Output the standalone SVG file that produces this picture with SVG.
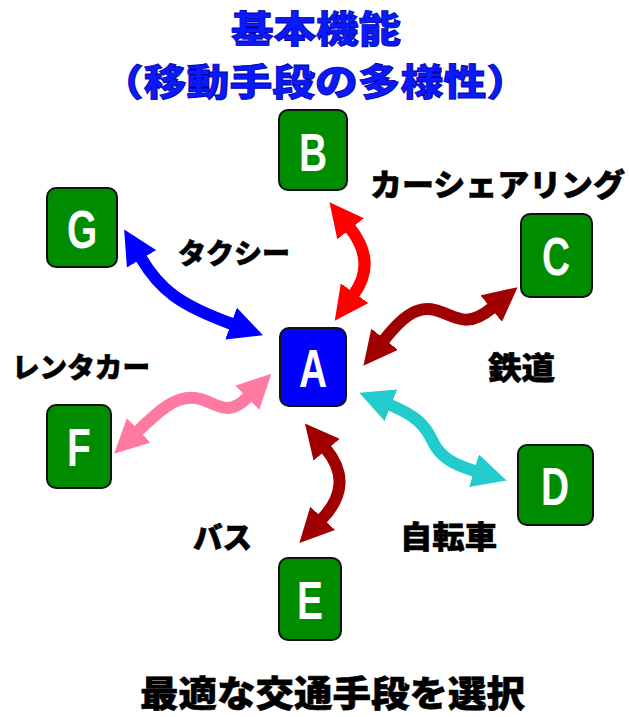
<svg xmlns="http://www.w3.org/2000/svg" width="629" height="717" viewBox="0 0 629 717">
<style>
.box{fill:#008c00;stroke:#111;stroke-width:2}
.boxA{fill:#0000ff;stroke:#111;stroke-width:2}
.ltr{font-family:"Liberation Sans",Arial,sans-serif;font-weight:bold;font-size:54px;fill:#fff;text-anchor:middle}
.lbl{font-family:"Noto Sans CJK JP","Noto Sans",sans-serif;font-weight:900;fill:#000;stroke:#000;stroke-width:0.6}
.ttl{font-family:"Noto Sans CJK JP","Noto Sans",sans-serif;font-weight:900;font-size:37px;fill:#0a1aff;stroke:#0000a0;stroke-width:0.8;text-anchor:middle}
.arr{fill:none;stroke-width:12}
</style>
<defs>
<marker id="hBlue" markerUnits="userSpaceOnUse" viewBox="0 0 34 34" refX="1" refY="17" markerWidth="34" markerHeight="34" orient="auto-start-reverse"><path d="M0,0 L34,17 L0,34 z" fill="#0000ff"/></marker>
<marker id="hRed" markerUnits="userSpaceOnUse" viewBox="0 0 34 34" refX="1" refY="17" markerWidth="34" markerHeight="34" orient="auto-start-reverse"><path d="M0,0 L34,17 L0,34 z" fill="#ff0000"/></marker>
<marker id="hDark" markerUnits="userSpaceOnUse" viewBox="0 0 34 34" refX="1" refY="17" markerWidth="34" markerHeight="34" orient="auto-start-reverse"><path d="M0,0 L34,17 L0,34 z" fill="#a00000"/></marker>
<marker id="hCyan" markerUnits="userSpaceOnUse" viewBox="0 0 34 34" refX="1" refY="17" markerWidth="34" markerHeight="34" orient="auto-start-reverse"><path d="M0,0 L34,17 L0,34 z" fill="#22cccc"/></marker>
<marker id="hPink" markerUnits="userSpaceOnUse" viewBox="0 0 34 34" refX="1" refY="17" markerWidth="34" markerHeight="34" orient="auto-start-reverse"><path d="M0,0 L34,17 L0,34 z" fill="#ff7aa0"/></marker>
</defs>
<rect width="629" height="717" fill="#fff"/>
<g id="title">
<text class="ttl" x="316" y="43" textLength="170" lengthAdjust="spacingAndGlyphs">基本機能</text>
<text class="ttl" x="315" y="96" textLength="428" lengthAdjust="spacingAndGlyphs">（移動手段の多様性）</text>
</g>
<g id="connectors">
<path class="arr" stroke="#0000ff" marker-start="url(#hBlue)" marker-end="url(#hBlue)" d="M141,258 C160,290 180,305 232,324"/>
<path class="arr" stroke="#ff0000" marker-start="url(#hRed)" marker-end="url(#hRed)" d="M350,228 Q377,262 354,294"/>
<path class="arr" stroke="#a00000" marker-start="url(#hDark)" marker-end="url(#hDark)" d="M384,340 C400,320 415,305 435,310 C455,315 465,330 492,308"/>
<path class="arr" stroke="#ff7aa0" marker-start="url(#hPink)" marker-end="url(#hPink)" d="M138,431 C160,410 175,396 195,398 C215,400 225,420 248,397"/>
<path class="arr" stroke="#22cccc" marker-start="url(#hCyan)" marker-end="url(#hCyan)" d="M390,405 C415,415 425,425 432,440 C440,458 455,465 475,471"/>
<path class="arr" stroke="#a00000" marker-start="url(#hDark)" marker-end="url(#hDark)" d="M326,449 Q355,484 322,519"/>
</g>
<g id="nodeB"><rect class="box" x="279" y="110" width="68" height="80" rx="9"/><text class="ltr" transform="translate(313,171) scale(0.72,1)">B</text></g>
<g id="nodeG"><rect class="box" x="47" y="188" width="70" height="79" rx="9"/><text class="ltr" transform="translate(82,248) scale(0.72,1)">G</text></g>
<g id="nodeC"><rect class="box" x="521" y="214" width="71" height="83" rx="9"/><text class="ltr" transform="translate(556,275) scale(0.72,1)">C</text></g>
<g id="nodeA"><rect class="boxA" x="280" y="328" width="66" height="78" rx="9"/><text class="ltr" transform="translate(313,387) scale(0.72,1)">A</text></g>
<g id="nodeF"><rect class="box" x="47" y="405" width="64" height="83" rx="9"/><text class="ltr" transform="translate(79,466) scale(0.72,1)">F</text></g>
<g id="nodeD"><rect class="box" x="518" y="445" width="75" height="80" rx="9"/><text class="ltr" transform="translate(555,505) scale(0.72,1)">D</text></g>
<g id="nodeE"><rect class="box" x="279" y="558" width="62" height="82" rx="9"/><text class="ltr" transform="translate(310,619) scale(0.72,1)">E</text></g>
<g id="labels">
<text class="lbl" x="370" y="196" font-size="31" textLength="255" lengthAdjust="spacingAndGlyphs">カーシェアリング</text>
<text class="lbl" x="178" y="264" font-size="28" textLength="112" lengthAdjust="spacingAndGlyphs">タクシー</text>
<text class="lbl" x="488" y="379" font-size="31" textLength="67" lengthAdjust="spacingAndGlyphs">鉄道</text>
<text class="lbl" x="12" y="378" font-size="28" textLength="138" lengthAdjust="spacingAndGlyphs">レンタカー</text>
<text class="lbl" x="400" y="548" font-size="31" textLength="97" lengthAdjust="spacingAndGlyphs">自転車</text>
<text class="lbl" x="193" y="548" font-size="30" textLength="59" lengthAdjust="spacingAndGlyphs">バス</text>
<text class="lbl" x="140" y="707" font-size="36" textLength="385" lengthAdjust="spacingAndGlyphs">最適な交通手段を選択</text>
</g>
</svg>
